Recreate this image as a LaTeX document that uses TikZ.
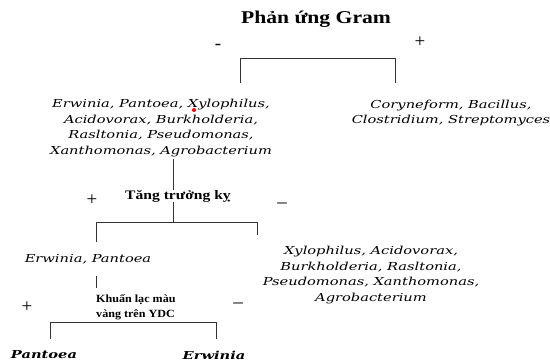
\documentclass[tikz,border=0pt]{standalone}
\usepackage{fontspec}
\setmainfont{Liberation Serif}
\newfontfamily\slab[FakeStretch=1.33]{DejaVu Serif}
\newfontfamily\titlefont[FakeStretch=1.2]{Liberation Serif}
\newfontfamily\midfont[FakeStretch=1.1]{Liberation Serif}
\begin{document}
\begin{tikzpicture}[x=1pt,y=-1pt,
  line/.style={draw=black!80, line width=0.8pt},
  sp/.style={font=\slab\itshape\fontsize{11}{15.8}\selectfont, align=center, inner sep=0pt},
  sg/.style={font=\fontsize{19}{19}\selectfont, inner sep=0pt},
  leaf/.style={font=\slab\bfseries\itshape\fontsize{11}{13}\selectfont, inner sep=0pt}]
\useasboundingbox (0,0) rectangle (550,362);
% title
\node[font=\titlefont\bfseries\fontsize{18}{18}\selectfont, inner sep=0pt] (title) at (316,19) {Phản ứng Gram};
\node[sg] (m1) at (218,47) {-};
\node[sg] (p1) at (420,42) {+};
\coordinate (b1l) at (240,58);
\coordinate (b1r) at (395,58);
\coordinate (b1ld) at (240,83);
\coordinate (b1rd) at (395,83);
\draw[line] (b1ld) -- (b1l) -- (b1r) -- (b1rd);
% gram negative
\node[sp] (neg) at (161,128) {Erwinia, Pantoea, Xylophilus,\\Acidovorax, Burkholderia,\\Rasltonia, Pseudomonas,\\Xanthomonas, Agrobacterium};
\fill[red] (194,110) circle (2);
% gram positive
\node[sp] (pos) at (451,113) {Coryneform, Bacillus,\\Clostridium, Streptomyces};
% growth
\node[font=\titlefont\bfseries\fontsize{13}{15}\selectfont, inner sep=0pt] (grow) at (178,196) {Tăng trưởng kỵ};
\coordinate (g1) at (173,159);
\draw[line] (g1) -- (grow.north -| g1);
\node[sg] (p2) at (92,200) {+};
\node[sg] (m2) at (282,203) {\_};
\coordinate (g2) at (173,222);
\coordinate (b2l) at (96,222);
\coordinate (b2r) at (257,222);
\coordinate (b2ld) at (96,242);
\coordinate (b2rd) at (257,235);
\draw[line] (grow.south -| g2) -- (g2);
\draw[line] (b2ld) -- (b2l) -- (b2r) -- (b2rd);
% erwinia pantoea
\node[sp] (ep) at (88,259) {Erwinia, Pantoea};
\node[sp] (xa) at (371,275) {Xylophilus, Acidovorax,\\Burkholderia, Rasltonia,\\Pseudomonas, Xanthomonas,\\Agrobacterium};
% yellow colony
\node[font=\midfont\bfseries\fontsize{11}{15}\selectfont, align=left, inner sep=0pt, anchor=west] (ydc) at (96,307) {Khuẩn lạc màu\\vàng trên YDC};
\coordinate (e1) at (96,276);
\draw[line] (e1) -- (96,288);
\node[sg] (p3) at (27,307) {+};
\node[sg] (m3) at (238,303) {\_};
\coordinate (b3l) at (50,322);
\coordinate (b3r) at (216,322);
\coordinate (b3ld) at (50,339);
\coordinate (b3rd) at (216,339);
\draw[line] (b3ld) -- (b3l) -- (b3r) -- (b3rd);
\node[leaf] (pant) at (44,355) {Pantoea};
\node[leaf] (erw) at (214,355) {Erwinia};
\end{tikzpicture}
\end{document}
